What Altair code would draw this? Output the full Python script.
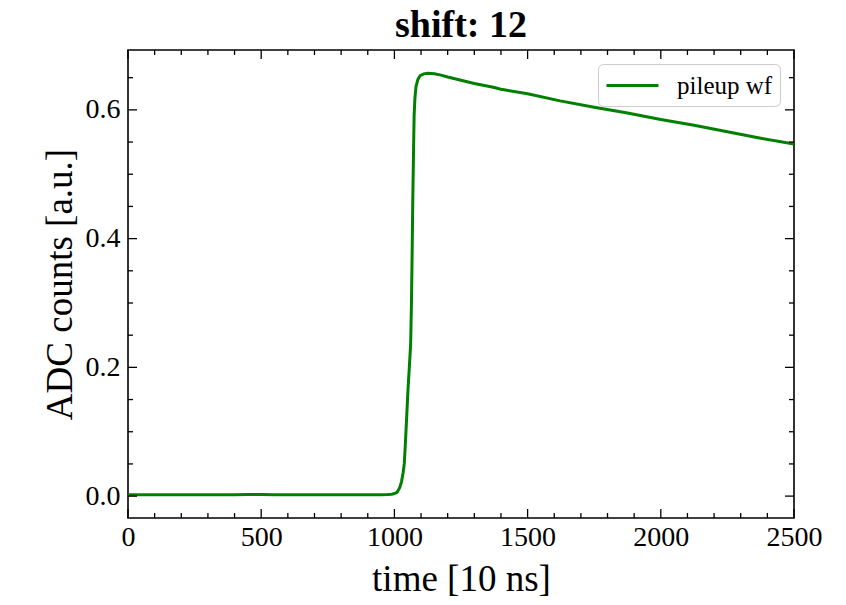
import altair as alt
import pandas as pd

# ---- data ----
time = [0, 50, 100, 150, 200, 250, 300, 350, 400, 450, 500, 550, 600, 650, 700, 750,
        800, 850, 900, 950, 975, 990, 1000, 1010, 1020, 1027, 1033, 1037, 1041, 1046,
        1051, 1056, 1061, 1064, 1067, 1069, 1072, 1074, 1077, 1081, 1088, 1096, 1110,
        1125, 1150, 1175, 1200, 1250, 1300, 1371, 1400, 1500, 1622, 1750, 1875, 2000,
        2125, 2250, 2375, 2500]
adc = [0.002, 0.0022, 0.0021, 0.0023, 0.002, 0.0021, 0.0022, 0.002, 0.0021, 0.0024,
       0.0026, 0.0022, 0.0021, 0.0023, 0.002, 0.0021, 0.0022, 0.0021, 0.0022, 0.0022,
       0.0025, 0.003, 0.004, 0.006, 0.013, 0.023, 0.037, 0.05, 0.08, 0.122,
       0.165, 0.2, 0.236, 0.30, 0.39, 0.46, 0.54, 0.59, 0.618, 0.636, 0.647, 0.653, 0.656,
       0.657, 0.656, 0.654, 0.651, 0.646, 0.641, 0.635, 0.632, 0.625, 0.614, 0.604, 0.595, 0.585,
       0.576, 0.566, 0.556, 0.547]
series_name = "pileup wf"

x_major = [0, 500, 1000, 1500, 2000, 2500]
x_minor = [v for v in range(0, 2501, 100) if v % 500 != 0]
y_major = [0.0, 0.2, 0.4, 0.6]
y_minor = [0.05, 0.1, 0.15, 0.25, 0.3, 0.35, 0.45, 0.5, 0.55, 0.65]

x_domain = [0, 2500]
y_domain = [-0.034, 0.693]

W, H = 666, 468
FONT = "Liberation Serif"
MAJ, MIN = 9, 5

df = pd.DataFrame({"t": time, "v": adc, "series": series_name})

xs = alt.Scale(domain=x_domain, nice=False, zero=False)
ys = alt.Scale(domain=y_domain, nice=False, zero=False)

x_axis = alt.Axis(title="time [10 ns]", values=x_major, format="d",
                  ticks=False, tickSize=0, domain=False, grid=False,
                  labelFlush=False, labelOverlap=False, labelBound=False,
                  labelFont=FONT, labelFontSize=28, labelPadding=5,
                  labelColor="black", titleFont=FONT, titleFontSize=37,
                  titleFontWeight="normal", titleColor="black",
                  titleBaseline="alphabetic", titleY=72)
y_axis = alt.Axis(title="ADC counts [a.u.]", values=y_major, format=".1f",
                  ticks=False, tickSize=0, domain=False, grid=False,
                  labelFlush=False, labelOverlap=False, labelBound=False,
                  labelFont=FONT, labelFontSize=28, labelPadding=8,
                  labelColor="black", titleFont=FONT, titleFontSize=37,
                  titleFontWeight="normal", titleColor="black",
                  titleBaseline="alphabetic", titleX=-57)

line = alt.Chart(df).mark_line(strokeWidth=3, clip=True).encode(
    x=alt.X("t:Q", scale=xs, axis=x_axis),
    y=alt.Y("v:Q", scale=ys, axis=y_axis),
    color=alt.Color("series:N",
                    scale=alt.Scale(domain=[series_name], range=["#008000"]),
                    legend=alt.Legend(title=None, orient="none", legendX=470, legendY=14,
                                      symbolType="M-2,0H2", symbolStrokeWidth=3,
                                      symbolSize=676, symbolOffset=13, labelOffset=30,
                                      symbolFillColor="transparent",
                                      labelFont=FONT, labelFontSize=25, labelColor="black",
                                      strokeColor="#cccccc", fillColor="rgba(255,255,255,0.8)",
                                      cornerRadius=5, padding=7)),
)


def xticks(vals, length):
    d = pd.DataFrame({"t": vals})
    bottom = alt.Chart(d).mark_rule(color="black", strokeWidth=1.3).encode(
        x=alt.X("t:Q", scale=xs, axis=x_axis), y=alt.value(H), y2=alt.value(H - length))
    top = alt.Chart(d).mark_rule(color="black", strokeWidth=1.3).encode(
        x=alt.X("t:Q", scale=xs, axis=x_axis), y=alt.value(0), y2=alt.value(length))
    return [bottom, top]


def yticks(vals, length):
    d = pd.DataFrame({"v": vals})
    left = alt.Chart(d).mark_rule(color="black", strokeWidth=1.3).encode(
        y=alt.Y("v:Q", scale=ys, axis=y_axis), x=alt.value(0), x2=alt.value(length))
    right = alt.Chart(d).mark_rule(color="black", strokeWidth=1.3).encode(
        y=alt.Y("v:Q", scale=ys, axis=y_axis), x=alt.value(W), x2=alt.value(W - length))
    return [left, right]


layers = [line] + xticks(x_major, MAJ) + xticks(x_minor, MIN) + yticks(y_major, MAJ) + yticks(y_minor, MIN)

chart = alt.layer(*layers).properties(
    width=W, height=H,
    title=alt.Title("shift: 12", font=FONT, fontSize=38, fontWeight="bold",
                    color="black", anchor="middle", offset=4, frame="group"),
    autosize=alt.AutoSizeParams(type="none"),
    padding={"left": 120, "top": 42, "right": 40, "bottom": 80},
    background="white",
).configure_view(stroke="black", strokeWidth=1.6)

chart.save("out.html", embed_options={"renderer": "svg", "actions": False})
